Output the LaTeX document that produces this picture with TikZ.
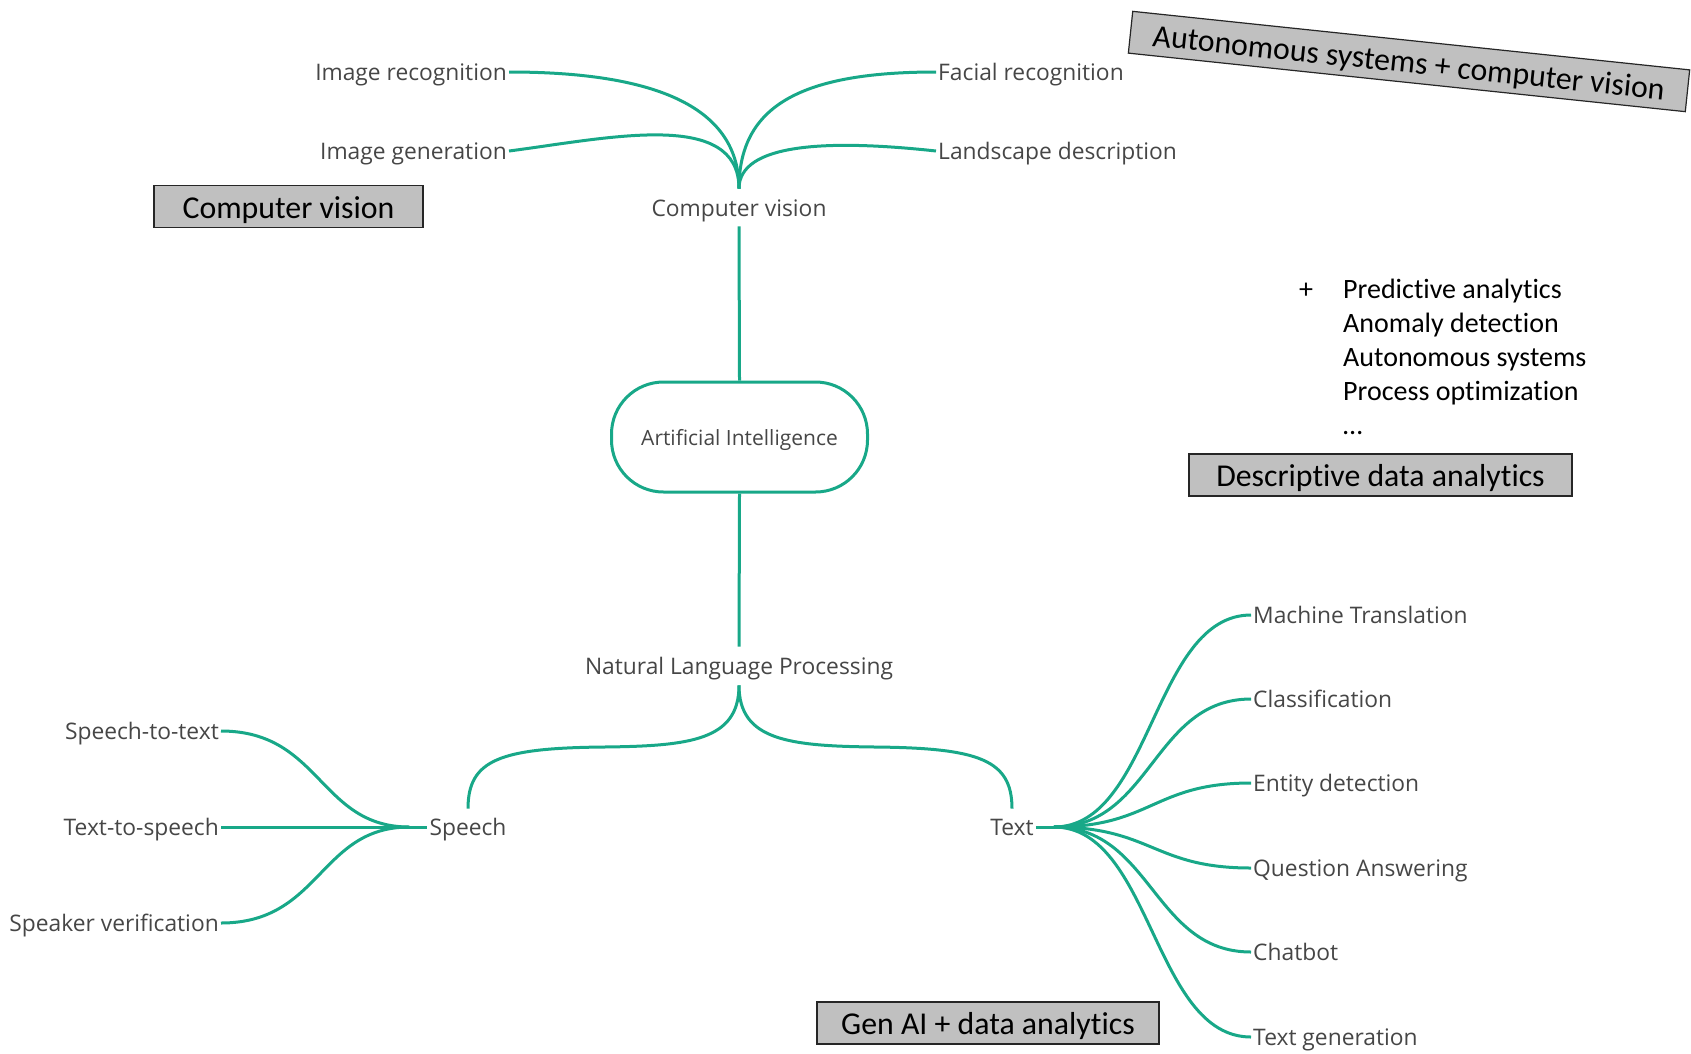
\documentclass[tikz,border=0pt]{standalone}
\usepackage{fontspec}
\newfontfamily\mapfont{Open Sans}
\newfontfamily\notefont{Carlito}[Ligatures=NoCommon]
\definecolor{mapgreen}{RGB}{24,168,136}
\definecolor{mapgray}{RGB}{70,70,70}
\definecolor{tagfill}{RGB}{192,192,192}

\tikzset{topic/.style={font=\mapfont\fontsize{22.8}{27}\selectfont,text=mapgray,inner sep=2pt,text height=16.3pt,text depth=0pt}}
\tikzset{hub/.style={topic,font=\mapfont\fontsize{21}{25}\selectfont,draw=mapgreen,line width=3pt,rounded corners=52pt,minimum width=256pt,minimum height=110pt}}
\tikzset{branch/.style={draw=mapgreen,line width=3pt}}
\tikzset{tag/.style={draw=black!85,fill=tagfill,line width=1.2pt,font=\notefont\fontsize{31.8}{36}\selectfont,text height=25pt,text depth=2pt,minimum height=42pt,inner sep=0pt}}
\tikzset{note/.style={font=\notefont\fontsize{28}{34}\selectfont,anchor=base west,inner sep=0pt}}

\begin{document}
\begin{tikzpicture}[x=1pt,y=-1pt]
\useasboundingbox (0,0) rectangle (1691,1053);
% trunk
\node[hub] (ai) at (739.5,437) {Artificial Intelligence};
\node[topic] (cv) at (739,208) {Computer vision};
\node[topic] (nlp) at (739,666) {Natural Language Processing};
\draw[branch] ([yshift=-8pt]cv.south) -- (ai.north);
\draw[branch] (ai.south) -- ([yshift=9pt]nlp.north);

% computer vision
\coordinate (cvroot) at ([yshift=9pt]cv.north);
\node[topic,anchor=east] (imgrec) at (509,72) {Image recognition};
\node[topic,anchor=east] (imggen) at (509,151) {Image generation};
\node[topic,anchor=west] (facrec) at (936,72) {Facial recognition};
\node[topic,anchor=west] (landsc) at (936,151) {Landscape description};
\draw[branch] (imgrec.east) .. controls +(150,0) and +(0,-80) .. (cvroot);
\draw[branch] (imggen.east) .. controls +(100,-13) and +(0,-80) .. (cvroot);
\draw[branch] (facrec.west) .. controls +(-140,0) and +(0,-80) .. (cvroot);
\draw[branch] (landsc.west) .. controls +(-110,-12) and +(0,-45) .. (cvroot);

% natural language processing
\node[topic] (speech) at (468,827) {Speech};
\node[topic] (text) at (1012,827) {Text};
\coordinate (nlproot) at ([yshift=-9pt]nlp.south);
\coordinate (nlpl) at (604,747);
\coordinate (nlpr) at (875,747);
\draw[branch] (nlproot) .. controls +(0,55) and +(86,-1) .. (nlpl)
  .. controls +(-104,1) and +(0,-49) .. ([yshift=8pt]speech.north);
\draw[branch] (nlproot) .. controls +(0,55) and +(-86,-1) .. (nlpr)
  .. controls +(104,1) and +(0,-49) .. ([yshift=8pt]text.north);

% speech
\node[topic,anchor=east] (s2t) at (221,731) {Speech-to-text};
\node[topic,anchor=east] (t2s) at (221,827) {Text-to-speech};
\node[topic,anchor=east] (spkv) at (221,923) {Speaker verification};
\coordinate (sfan) at ([xshift=-18pt]speech.west);
\draw[branch] (sfan) -- (speech.west);
\foreach \leaf in {s2t,t2s,spkv}
  \draw[branch] (\leaf.east) .. controls +(100,0) and +(-90,0) .. (sfan);

% text
\node[topic,anchor=west] (mt) at (1251,615) {Machine Translation};
\node[topic,anchor=west] (cls) at (1251,699) {Classification};
\node[topic,anchor=west] (ent) at (1251,783) {Entity detection};
\node[topic,anchor=west] (qa) at (1251,868) {Question Answering};
\node[topic,anchor=west] (chat) at (1251,952) {Chatbot};
\node[topic,anchor=west] (tg) at (1251,1037) {Text generation};
\coordinate (tfan) at ([xshift=18pt]text.east);
\draw[branch] (text.east) -- (tfan);
\foreach \leaf in {mt,cls,ent,qa,chat,tg}
  \draw[branch] (tfan) .. controls +(98,0) and +(-98,0) .. (\leaf.west);

% grey tags
\node[tag,minimum width=269pt] (cvtag) at (288.5,206.5) {Computer vision};
\node[tag,minimum width=383pt] (datag) at (1380.5,475) {Descriptive data analytics};
\node[tag,minimum width=342pt] (gentag) at (988,1023) {Gen AI + data analytics};
\node[tag,minimum width=560pt,rotate=-6] (avtag) at (1409,61.5) {Autonomous systems + computer vision};

% analytics list
\node[note] (plus) at (1299,298) {+};
\foreach \txt [count=\i] in {Predictive analytics,Anomaly detection,Autonomous systems,Process optimization,…}
  \node[note] (dl\i) at (1343,264+34*\i) {\txt};
\end{tikzpicture}
\end{document}
